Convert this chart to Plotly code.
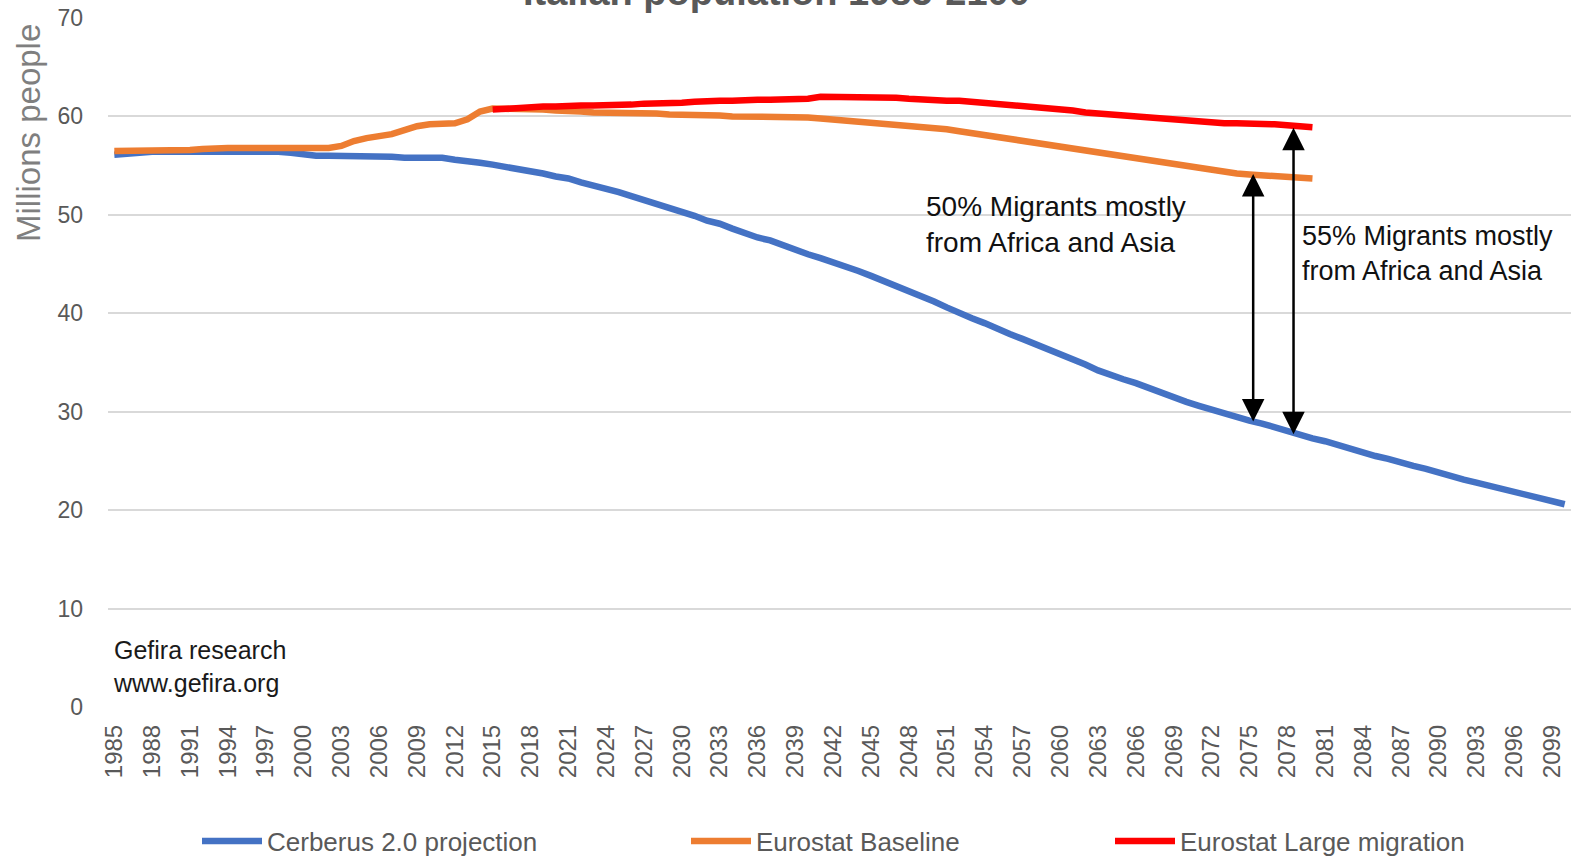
import plotly.graph_objects as go

# ---------------- data ----------------
years_cerberus = list(range(1985, 2101))
cerberus = [
    56.1, 56.2, 56.4, 56.4, 56.4, 56.4, 56.5, 56.5, 56.5, 56.4,   # 1985-1994
    56.4, 56.4, 56.4, 56.4, 56.3, 56.1, 56.0, 56.0, 56.0, 56.0,   # 1995-2004
    56.0, 56.0, 55.9, 55.8, 55.8, 55.8, 55.8, 55.6, 55.5, 55.3,   # 2005-2014
    55.1, 54.9, 54.7, 54.5, 54.2, 53.9, 53.7, 53.3, 53.0, 52.7,   # 2015-2024
    52.3, 51.9, 51.5, 51.1, 50.8, 50.4, 49.9, 49.4, 49.1, 48.6,   # 2025-2034
    48.1, 47.7, 47.4, 46.9, 46.5, 46.0, 45.6, 45.2, 44.7, 44.3,   # 2035-2044
    43.8, 43.3, 42.8, 42.3, 41.8, 41.2, 40.6, 40.0, 39.5, 39.0,   # 2045-2054
    38.4, 37.9, 37.4, 36.9, 36.4, 35.9, 35.4, 34.8, 34.2, 33.7,   # 2055-2064
    33.3, 32.9, 32.4, 31.9, 31.4, 31.0, 30.6, 30.2, 29.9, 29.5,   # 2065-2074
    29.1, 28.8, 28.4, 28.0, 27.6, 27.3, 27.0, 26.6, 26.2, 25.8,   # 2075-2084
    25.5, 25.2, 24.8, 24.5, 24.2, 23.8, 23.5, 23.1, 22.8, 22.5,   # 2085-2094
    22.2, 21.8, 21.5, 21.3, 21.0, 20.6,                           # 2095-2100
]

years_baseline = list(range(1985, 2081))
eurostat_baseline = [
    56.5, 56.5, 56.5, 56.5, 56.5, 56.5, 56.6, 56.7, 56.8, 56.8,   # 1985-1994
    56.8, 56.8, 56.8, 56.8, 56.8, 56.8, 56.8, 56.8, 57.0, 57.5,   # 1995-2004
    57.8, 58.0, 58.2, 58.6, 59.0, 59.2, 59.3, 59.3, 59.7, 60.5,   # 2005-2014
    60.8, 60.8, 60.8, 60.7, 60.7, 60.6, 60.6, 60.5, 60.4, 60.4,   # 2015-2024
    60.4, 60.4, 60.3, 60.3, 60.2, 60.2, 60.1, 60.1, 60.1, 60.0,   # 2025-2034
    60.0, 60.0, 60.0, 59.9, 59.9, 59.9, 59.8, 59.7, 59.6, 59.5,   # 2035-2044
    59.4, 59.3, 59.2, 59.1, 59.0, 58.8, 58.7, 58.5, 58.3, 58.2,   # 2045-2054
    58.0, 57.8, 57.6, 57.4, 57.2, 57.0, 56.8, 56.6, 56.4, 56.2,   # 2055-2064
    56.0, 55.8, 55.6, 55.4, 55.2, 55.0, 54.8, 54.6, 54.4, 54.2,   # 2065-2074
    54.1, 54.0, 53.9, 53.8, 53.8, 53.7,                           # 2075-2080
]

years_large = list(range(2015, 2081))
eurostat_large = [
    60.7, 60.8, 60.9, 61.0, 61.0, 61.0, 61.1, 61.1, 61.1, 61.1,   # 2015-2024
    61.2, 61.2, 61.3, 61.3, 61.3, 61.4, 61.5, 61.6, 61.6, 61.6,   # 2025-2034
    61.7, 61.7, 61.7, 61.7, 61.8, 61.8, 62.0, 62.0, 62.0, 62.0,   # 2035-2044
    62.0, 62.0, 61.9, 61.8, 61.7, 61.7, 61.6, 61.6, 61.5, 61.4,   # 2045-2054
    61.3, 61.2, 61.1, 61.0, 60.8, 60.7, 60.6, 60.4, 60.3, 60.2,   # 2055-2064
    60.1, 60.0, 59.9, 59.8, 59.7, 59.5, 59.4, 59.3, 59.3, 59.3,   # 2065-2074
    59.3, 59.3, 59.2, 59.1, 59.0, 58.9,                           # 2075-2080
]

series_names = ["Cerberus 2.0 projection", "Eurostat Baseline", "Eurostat Large migration"]
series_colors = ["#4472C4", "#ED7D31", "#FF0000"]

x_tick_years = list(range(1985, 2100, 3))
y_tick_values = [0, 10, 20, 30, 40, 50, 60, 70]

# double-headed arrows: year, lower value, upper value
arrow_years = [2075.3, 2078.5]
arrow_low = [29.0, 27.7]
arrow_high = [54.3, 59.0]

# ---------------- layout geometry ----------------
W, H = 1579, 856
L, R, T, B = 108, 8, 18, 149
PW, PH = W - L - R, H - T - B

def px(xp):
    return (xp - L) / PW

def py(yp):
    return (H - B - yp) / PH

TXT = "#595959"
FONT = "Liberation Sans, Arial, sans-serif"

fig = go.Figure()
legend_ids = ["legend", "legend2", "legend3"]
for xs, ys, name, col, lg in zip(
    [years_cerberus, years_baseline, years_large],
    [cerberus, eurostat_baseline, eurostat_large],
    series_names, series_colors, legend_ids,
):
    fig.add_trace(go.Scatter(
        x=xs, y=ys, mode="lines", name=name,
        line=dict(color=col, width=6.5),
        legend=lg, hoverinfo="x+y+name",
    ))

legend_common = dict(
    orientation="h", yanchor="middle", xanchor="left",
    y=py(841), itemwidth=60, bgcolor="rgba(0,0,0,0)",
    font=dict(family=FONT, size=26, color=TXT),
)
fig.update_layout(
    legend=dict(x=px(197), **legend_common),
    legend2=dict(x=px(686), **legend_common),
    legend3=dict(x=px(1110), **legend_common),
)

annotations = []
# title (mostly cut off at the top of the image, as in the source)
annotations.append(dict(
    text="<b>Italian population 1985-2100</b>", xref="paper", yref="paper",
    x=px(776), y=py(15), xanchor="center", yanchor="bottom", showarrow=False,
    font=dict(family=FONT, size=38, color=TXT),
))
# y axis title
annotations.append(dict(
    text="Millions people", xref="paper", yref="paper",
    x=px(28), y=py(133), xanchor="center", yanchor="middle", textangle=-90,
    showarrow=False,
    font=dict(family=FONT, size=33, color="#7f7f7f"),
))
# text notes
annotations.append(dict(
    text="50% Migrants mostly<br>from Africa and Asia", xref="paper", yref="paper",
    x=px(924), y=py(225), xanchor="left", yanchor="middle", align="left",
    showarrow=False,
    font=dict(family=FONT, size=28, color="#111111"),
))
annotations.append(dict(
    text="55% Migrants mostly<br>from Africa and Asia", xref="paper", yref="paper",
    x=px(1300), y=py(253), xanchor="left", yanchor="middle", align="left",
    showarrow=False,
    font=dict(family=FONT, size=27, color="#111111"),
))
annotations.append(dict(
    text="Gefira research<br>www.gefira.org", xref="paper", yref="paper",
    x=px(111), y=py(666), xanchor="left", yanchor="middle", align="left",
    showarrow=False,
    font=dict(family=FONT, size=25, color="#1a1a1a"),
))
for xa, lo, hi in zip(arrow_years, arrow_low, arrow_high):
    annotations.append(dict(
        x=xa, y=lo, ax=xa, ay=hi, xref="x", yref="y", axref="x", ayref="y",
        text="", showarrow=True, arrowhead=2, startarrowhead=2,
        arrowside="end+start", arrowsize=1.8, startarrowsize=1.8,
        arrowwidth=2.5, arrowcolor="#000000", standoff=0, startstandoff=0,
    ))

fig.update_layout(
    width=W, height=H,
    margin=dict(l=L, r=R, t=T, b=B, pad=0, autoexpand=False),
    paper_bgcolor="white", plot_bgcolor="white",
    showlegend=True,
    annotations=annotations,
    xaxis=dict(
        range=[1984.5, 2100.5], tickmode="array", tickvals=x_tick_years,
        ticktext=[str(v) for v in x_tick_years], tickangle=-90,
        showgrid=False, zeroline=False, showline=False, ticks="",
        ticklabelstandoff=12,
        tickfont=dict(family=FONT, size=24, color=TXT),
    ),
    yaxis=dict(
        range=[0, 70], tickmode="array", tickvals=y_tick_values,
        showgrid=True, gridcolor="#d9d9d9", gridwidth=1.5,
        zeroline=False, showline=False, ticks="",
        ticklabelstandoff=24,
        tickfont=dict(family=FONT, size=23, color=TXT),
    ),
)

fig.write_html(
    "out.html",
    config={"displayModeBar": False},
    post_script="document.body.style.margin='0';document.body.style.overflow='hidden';",
)
